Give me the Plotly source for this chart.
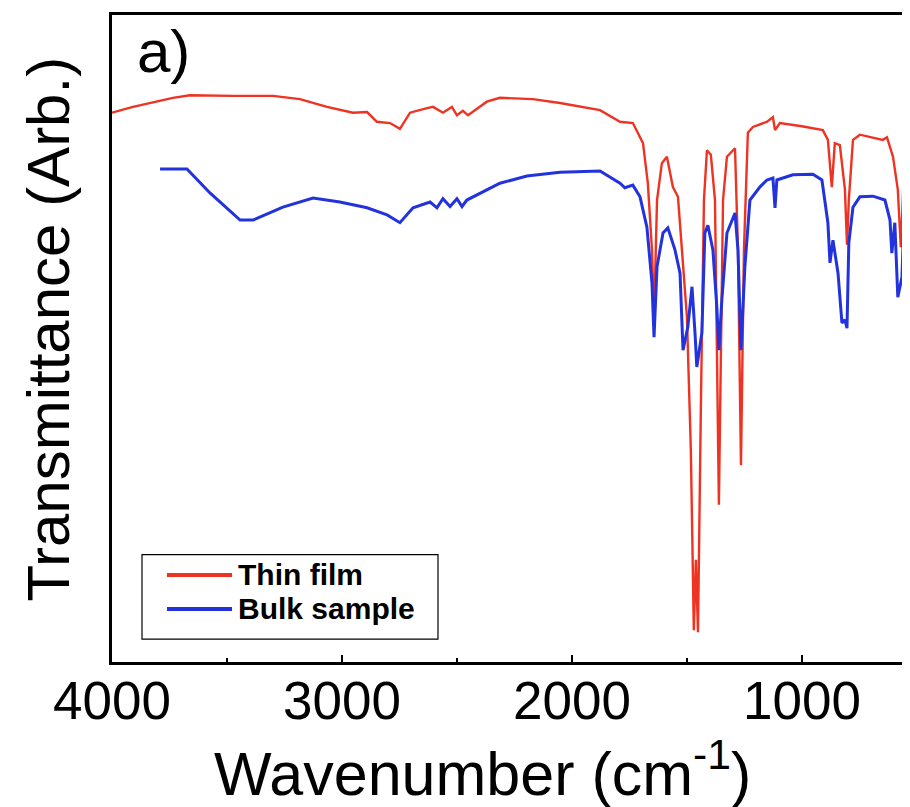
import plotly.graph_objects as go

# Thin film spectrum (wavenumber in cm^-1, transmittance in arbitrary units)
w_film = [4000, 3909, 3735, 3661, 3474, 3300, 3183, 3065, 2952, 2891,
          2848, 2791, 2748, 2704, 2630, 2604, 2561, 2522, 2500, 2474,
          2452, 2370, 2313, 2170, 2052, 1878, 1791, 1735, 1691, 1670,
          1652, 1643, 1630, 1609, 1587, 1561, 1539, 1517, 1500, 1483,
          1470, 1461, 1452, 1439, 1426, 1413, 1396, 1378, 1370, 1361,
          1352, 1343, 1326, 1291, 1278, 1265, 1252, 1235, 1213, 1152,
          1126, 1117, 1096, 1000, 909, 887, 870, 857, 835, 813, 804,
          796, 778, 748, 648, 630, 604, 583, 570, 552, 530]
t_film = [84.9, 85.8, 87.2, 87.6, 87.5, 87.5, 87.0, 85.8, 84.9, 85.0,
          83.5, 83.3, 82.4, 84.9, 85.6, 85.8, 84.9, 85.8, 84.5, 85.2,
          84.5, 86.6, 87.2, 87.0, 86.4, 85.3, 83.5, 83.3, 80.2, 74.0,
          63.7, 52.9, 71.4, 77.1, 78.1, 73.4, 71.9, 61.1, 53.3, 32.8,
          4.9, 15.8, 4.6, 40.5, 71.4, 79.1, 78.4, 71.4, 48.2, 24.3,
          48.2, 71.4, 78.1, 79.4, 63.7, 30.4, 63.7, 81.8, 82.7, 83.5,
          84.2, 82.2, 83.3, 82.8, 82.2, 80.7, 73.4, 80.2, 79.9, 73.0, 64.5,
          71.4, 80.7, 81.5, 80.7, 81.1, 78.1, 73.0, 64.1, 79.6, 80.2]

# Bulk sample spectrum
w_bulk = [3791, 3674, 3574, 3443, 3387, 3257, 3126, 3009, 2891, 2804,
          2748, 2691, 2617, 2587, 2561, 2530, 2500, 2478, 2457, 2413,
          2313, 2196, 2052, 1878, 1791, 1770, 1735, 1704, 1674, 1652,
          1643, 1630, 1604, 1583, 1552, 1530, 1517, 1496, 1478, 1465,
          1457, 1435, 1422, 1409, 1387, 1370, 1361, 1348, 1326, 1291,
          1278, 1265, 1248, 1226, 1183, 1152, 1126, 1117, 1109, 1039,
          952, 913, 900, 887, 878, 865, 843, 826, 813, 804,
          796, 778, 748, 691, 639, 617, 609, 596, 583, 565,
          557, 543, 530]
t_bulk = [76.2, 76.2, 72.5, 68.3, 68.3, 70.3, 71.7, 71.1, 70.2, 69.1,
          67.9, 70.2, 71.1, 70.2, 71.6, 70.4, 71.6, 70.4, 71.4, 72.2,
          74.0, 75.1, 75.7, 75.9, 74.0, 73.3, 73.7, 71.9, 67.2, 58.6,
          50.2, 61.1, 66.3, 67.1, 63.7, 60.1, 48.2, 51.8, 58.0, 50.9,
          45.6, 50.9, 66.3, 67.5, 63.7, 54.9, 48.2, 56.0, 66.3, 69.4,
          63.7, 48.2, 61.1, 71.4, 73.4, 74.5, 74.8, 70.2, 74.5, 75.3,
          75.4, 74.5, 70.9, 67.9, 61.7, 65.2, 60.1, 52.4, 52.9, 51.6,
          64.8, 70.3, 71.9, 72.0, 71.4, 68.3, 63.2, 67.9, 56.4, 59.5,
          67.9, 71.4, 71.9]

x_ticks = [4000, 3000, 2000, 1000]
x_ticklabels = ["4000", "3000", "2000", "1000"]
series_names = ["Thin film", "Bulk sample"]
series_colors = ["#EE3322", "#2233DD"]
x_title = "Wavenumber (cm<sup>-1</sup>)"
y_title = "Transmittance (Arb.)"
panel_label = "a)"

FONT = "Arial, Liberation Sans, sans-serif"

fig = go.Figure()
fig.add_trace(go.Scatter(x=w_film, y=t_film, mode="lines", name=series_names[0],
                         line=dict(color=series_colors[0], width=2.4), showlegend=False))
fig.add_trace(go.Scatter(x=w_bulk, y=t_bulk, mode="lines", name=series_names[1],
                         line=dict(color=series_colors[1], width=3), showlegend=False))

# custom legend box (paper coordinates)
shapes = [dict(type="rect", xref="paper", yref="paper", x0=0.0376, x1=0.4085,
               y0=0.0355, y1=0.166, line=dict(color="black", width=1.2),
               fillcolor="white", layer="above")]
annos = []
leg_y = [0.1345, 0.0820]
for name, col, yy in zip(series_names, series_colors, leg_y):
    shapes.append(dict(type="line", xref="paper", yref="paper", x0=0.0689, x1=0.1504,
                       y0=yy, y1=yy, line=dict(color=col, width=4), layer="above"))
    annos.append(dict(text="<b>%s</b>" % name, xref="paper", yref="paper", x=0.155, y=yy,
                      xanchor="left", yanchor="middle", showarrow=False,
                      font=dict(size=30, family=FONT, color="black")))
annos.append(dict(text=panel_label, xref="paper", yref="paper", x=0.029, y=0.999,
                  xanchor="left", yanchor="top", showarrow=False,
                  font=dict(size=60, family=FONT, color="black")))
annos.append(dict(text=x_title, xref="paper", yref="paper", x=0.4637, y=-0.165,
                  xanchor="center", yanchor="middle", showarrow=False,
                  font=dict(size=61, family=FONT, color="black")))
annos.append(dict(text=y_title, xref="paper", yref="paper", x=-0.0802, y=0.514,
                  xanchor="center", yanchor="middle", showarrow=False, textangle=-90,
                  font=dict(size=60, family=FONT, color="black")))

fig.update_layout(
    width=902, height=799,
    margin=dict(l=104, r=0, t=7, b=145),
    paper_bgcolor="white", plot_bgcolor="white",
    font=dict(family=FONT, color="black"),
    showlegend=False,
    shapes=shapes,
    annotations=annos,
    xaxis=dict(range=[4000, 530], tickvals=x_ticks, ticktext=x_ticklabels,
               ticks="inside", ticklen=7, tickwidth=2, tickcolor="black",
               minor=dict(dtick=500, ticks="inside", ticklen=4, tickwidth=2, tickcolor="black"),
               showline=True, linewidth=3, linecolor="black", mirror=True,
               showgrid=False, zeroline=False, automargin=False,
               ticklabelstandoff=-10,
               tickfont=dict(size=53, family=FONT)),
    yaxis=dict(range=[0, 100], showticklabels=False, ticks="",
               showline=True, linewidth=3, linecolor="black", mirror=False,
               showgrid=False, zeroline=False, automargin=False),
)

fig.write_html("out.html")
